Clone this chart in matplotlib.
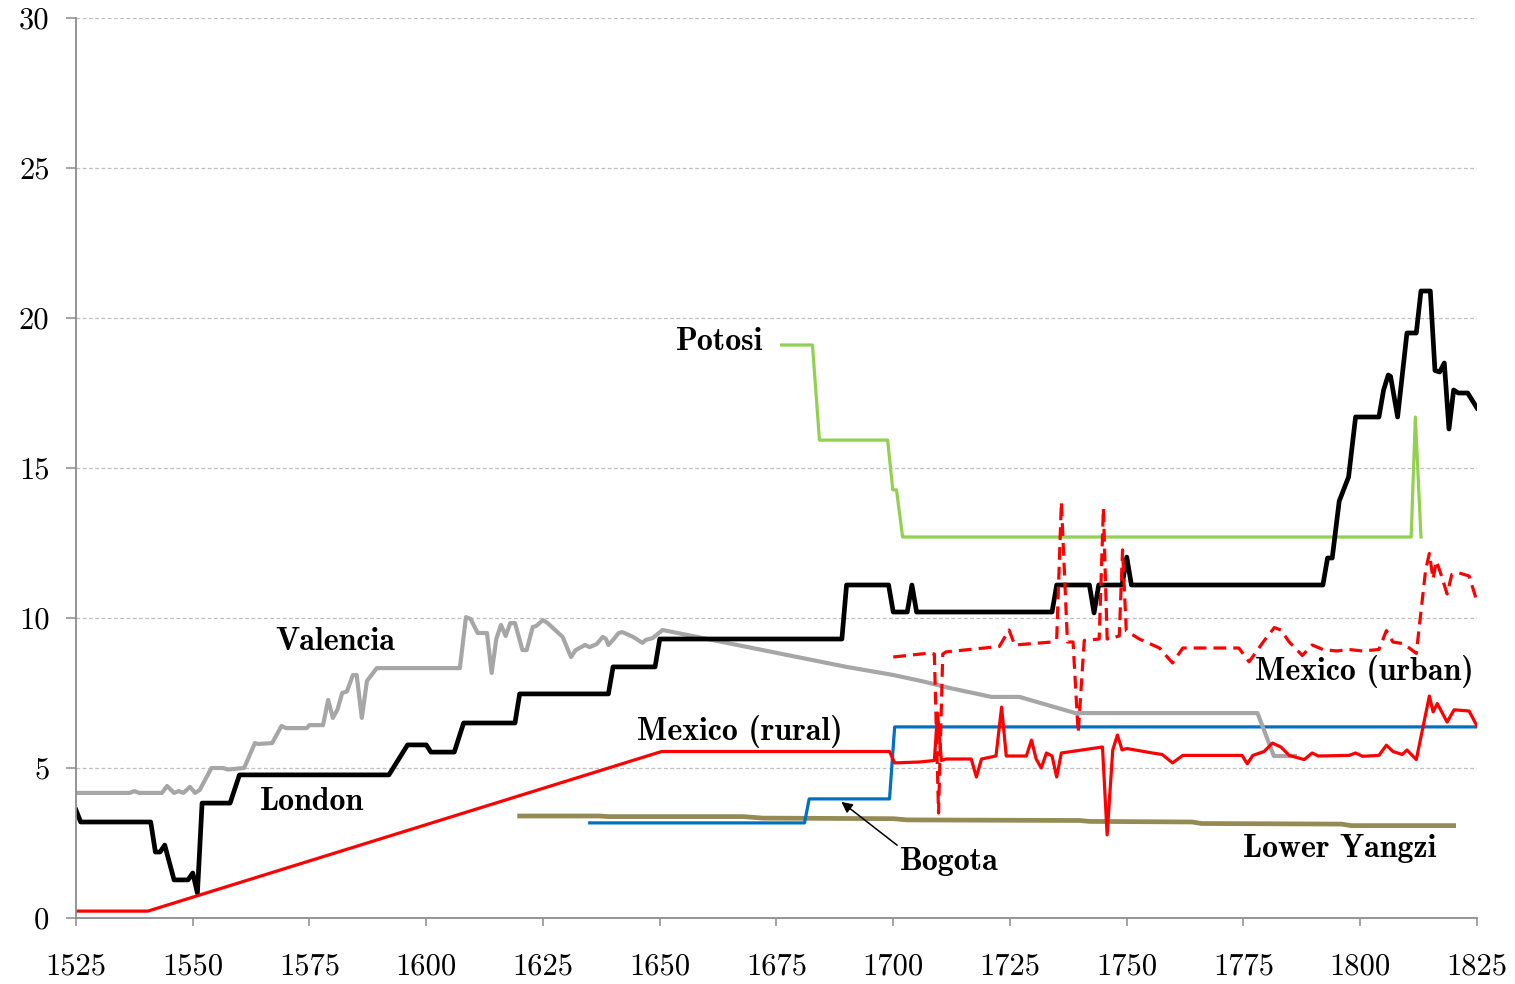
import matplotlib
matplotlib.use("Agg")
import matplotlib.pyplot as plt

# London (black)
london_years = [1525, 1526, 1541, 1542, 1543, 1544, 1546, 1549, 1550, 1551, 1552, 1558, 1560,
                1592, 1596, 1600, 1601, 1606, 1608, 1619, 1620, 1639, 1640, 1649, 1650, 1689,
                1690, 1699, 1700, 1703, 1704, 1705, 1734, 1735, 1742, 1743, 1744, 1749, 1750,
                1751, 1792, 1793, 1794, 1795.5, 1797.5, 1799, 1804, 1805, 1806, 1806.5, 1808,
                1810, 1812, 1813, 1815, 1816, 1817, 1818, 1819, 1820, 1821, 1823, 1825]
london_vals = [3.6, 3.2, 3.2, 2.2, 2.2, 2.43, 1.27, 1.27, 1.5, 0.83, 3.83, 3.83, 4.77,
               4.77, 5.77, 5.77, 5.53, 5.53, 6.5, 6.5, 7.47, 7.47, 8.37, 8.37, 9.3, 9.3,
               11.1, 11.1, 10.2, 10.2, 11.1, 10.2, 10.2, 11.1, 11.1, 10.17, 11.1, 11.1, 12.03,
               11.1, 11.1, 12.0, 12.0, 13.9, 14.7, 16.7, 16.7, 17.6, 18.1, 18.05, 16.7,
               19.5, 19.5, 20.9, 20.9, 18.25, 18.2, 18.5, 16.3, 17.6, 17.5, 17.5, 17.0]

# Valencia (grey)
valencia_years = [1525, 1536.5, 1537.5, 1538.5, 1543.4, 1544.5, 1546, 1547, 1548, 1549.4, 1550.5,
                  1551.5, 1554, 1556.5, 1557.5, 1561, 1563.3, 1564, 1567, 1569, 1570, 1574.4,
                  1575, 1577.9, 1579, 1580, 1581, 1582, 1583, 1584.3, 1585.1, 1586.2, 1587.3,
                  1589.4, 1607.2, 1608.5, 1609.5, 1611, 1613, 1614, 1615, 1616, 1617, 1618,
                  1619, 1620.6, 1621.5, 1622.8, 1623.5, 1625, 1626, 1629.2, 1631, 1632, 1634,
                  1635, 1636.5, 1637.8, 1638.5, 1639, 1640, 1641.2, 1642, 1644.3, 1646.3, 1647,
                  1648.5, 1650.6, 1690, 1700, 1706, 1712, 1721, 1727, 1739, 1778, 1781.5, 1786]
valencia_vals = [4.17, 4.17, 4.23, 4.17, 4.17, 4.4, 4.17, 4.23, 4.17, 4.37, 4.17,
                 4.27, 5.0, 5.0, 4.95, 5.0, 5.83, 5.8, 5.83, 6.4, 6.33, 6.33,
                 6.43, 6.43, 7.27, 6.67, 6.95, 7.5, 7.55, 8.1, 8.1, 6.67, 7.9,
                 8.33, 8.33, 10.03, 9.97, 9.5, 9.5, 8.17, 9.3, 9.77, 9.4, 9.83,
                 9.83, 8.93, 8.93, 9.7, 9.73, 9.93, 9.83, 9.37, 8.7, 8.93, 9.1,
                 9.03, 9.13, 9.37, 9.3, 9.1, 9.27, 9.5, 9.53, 9.37, 9.17, 9.27,
                 9.33, 9.6, 8.37, 8.1, 7.9, 7.67, 7.37, 7.37, 6.83, 6.83, 5.4, 5.4]

# Mexico (rural), solid red
rural_years = [1525, 1540.4, 1650.4, 1699.2, 1700.3, 1705.6, 1708.8, 1709.5, 1710.3, 1711.3,
               1716.7, 1717.8, 1718.9, 1722, 1723.2, 1724.2, 1728.5, 1729.6, 1730.6, 1731.7,
               1732.8, 1734, 1735, 1736, 1744.8, 1745.8, 1747, 1748, 1749, 1750, 1755.5,
               1757.6, 1759.8, 1762, 1774.7, 1775.8, 1777, 1779.4, 1781.2, 1783, 1784.8, 1788,
               1789.7, 1791, 1797.6, 1799, 1800.5, 1804, 1805.6, 1807, 1809, 1810, 1812,
               1814.8, 1815.6, 1816.5, 1818.6, 1820.1, 1823.3, 1825]
rural_vals = [0.23, 0.23, 5.55, 5.55, 5.17, 5.2, 5.25, 6.83, 5.25, 5.3,
              5.3, 4.7, 5.3, 5.4, 7.03, 5.4, 5.4, 5.93, 5.3, 5.0,
              5.5, 5.4, 4.7, 5.5, 5.7, 2.77, 5.6, 6.1, 5.6, 5.65, 5.5,
              5.45, 5.17, 5.42, 5.42, 5.14, 5.42, 5.55, 5.83, 5.7, 5.42, 5.28,
              5.5, 5.4, 5.42, 5.5, 5.39, 5.42, 5.76, 5.55, 5.45, 5.6, 5.28,
              7.4, 6.87, 7.15, 6.53, 6.94, 6.9, 6.4]

# Mexico (urban), dashed red
urban_years = [1700, 1707.7, 1708.8, 1709.7, 1710.6, 1711.3, 1722.7, 1724.8, 1726, 1734, 1735,
               1736, 1737.3, 1738.5, 1739.6, 1740.9, 1744.1, 1745, 1745.8, 1748.4, 1749.1,
               1749.9, 1752.7, 1757, 1759.8, 1762, 1774, 1776.2, 1779.4, 1781.6, 1783, 1784.8,
               1787.6, 1789.7, 1792, 1794.9, 1797.6, 1800.5, 1804, 1805.6, 1807, 1809, 1810.5,
               1812, 1814, 1814.8, 1815.6, 1816.3, 1817.2, 1818.6, 1819.6, 1821.2, 1823.3, 1825]
urban_vals = [8.7, 8.83, 8.8, 3.5, 8.8, 8.87, 9.05, 9.6, 9.1, 9.2, 9.3,
              13.87, 9.2, 9.2, 6.17, 9.25, 9.3, 13.67, 9.3, 9.4, 12.27,
              9.57, 9.3, 9.0, 8.5, 9.0, 9.0, 8.54, 9.24, 9.68, 9.6, 9.2,
              8.75, 9.1, 8.95, 8.9, 8.95, 8.9, 8.95, 9.58, 9.2, 9.15, 9.0,
              8.82, 11.6, 12.15, 11.3, 11.9, 11.5, 10.8, 11.45, 11.5, 11.4, 10.55]

# Potosi (green)
potosi_years = [1676.1, 1682.7, 1684.2, 1698.8, 1699.9, 1700.7, 1702, 1810.9, 1811.8, 1813]
potosi_vals = [19.1, 19.1, 15.93, 15.93, 14.27, 14.27, 12.7, 12.7, 16.7, 12.7]

# Bogota (blue)
bogota_years = [1635, 1681, 1682, 1699.2, 1700.3, 1825]
bogota_vals = [3.17, 3.17, 3.97, 3.97, 6.37, 6.37]

# Lower Yangzi (olive)
yangzi_years = [1620, 1637, 1639, 1668, 1672, 1700, 1703, 1740, 1742, 1764, 1766, 1796, 1798, 1820]
yangzi_vals = [3.40, 3.40, 3.38, 3.38, 3.33, 3.31, 3.27, 3.25, 3.22, 3.20, 3.15, 3.13, 3.08, 3.08]

xticks = list(range(1525, 1826, 25))
yticks = [0, 5, 10, 15, 20, 25, 30]

grey = "#8C8C8C"
fig = plt.figure(figsize=(15.15, 9.84), dpi=100)
ax = fig.add_axes([76 / 1515, 66 / 984, (1477 - 76) / 1515, 900 / 984])

ax.plot(yangzi_years, yangzi_vals, color="#948A54", lw=3.4, solid_joinstyle="round")
ax.plot(bogota_years, bogota_vals, color="#0070C0", lw=2.3)
ax.plot(potosi_years, potosi_vals, color="#92D050", lw=2.3)
ax.plot(valencia_years, valencia_vals, color="#A6A6A6", lw=3.0)
ax.plot(london_years, london_vals, color="black", lw=3.4)
ax.plot(rural_years, rural_vals, color="#FF0000", lw=2.3)
ax.plot(urban_years, urban_vals, color="#FF0000", lw=2.3, dashes=(4, 2.2))

ax.set_xlim(1525, 1825)
ax.set_ylim(0, 30)
ax.set_xticks(xticks)
ax.set_yticks(yticks)
ax.grid(axis="y", color="#BFBFBF", linestyle=(0, (3, 2)), lw=0.9)
ax.set_axisbelow(True)
for s in ["top", "right"]:
    ax.spines[s].set_visible(False)
for s in ["left", "bottom"]:
    ax.spines[s].set_color(grey)
    ax.spines[s].set_linewidth(1.3)
ax.tick_params(axis="y", direction="out", length=7, width=1.1, color=grey, pad=12)
ax.tick_params(axis="x", direction="out", length=6, width=1.1, color=grey, pad=19)
for lab in ax.get_xticklabels() + ax.get_yticklabels():
    lab.set_fontfamily("cmr10")
    lab.set_fontsize(22)

lbl = dict(family="cmb10", fontsize=23, ha="center", va="center")
ax.text(1662.8, 19.23, "Potosi", **lbl)
ax.text(1580.4, 9.2, "Valencia", **lbl)
ax.text(1575.5, 3.87, "London", **lbl)
ax.text(1667.1, 6.2, "Mexico (rural)", **lbl)
ax.text(1800.8, 8.2, "Mexico (urban)", **lbl)
ax.text(1795.5, 2.33, "Lower Yangzi", **lbl)
ax.annotate("Bogota", xy=(1688.9, 3.87), xytext=(1712, 1.87),
            arrowprops=dict(arrowstyle="-|>", color="black", lw=1.1, mutation_scale=16,
                            relpos=(0, 1), shrinkA=0, shrinkB=0),
            **lbl)

fig.savefig("out.png", dpi=100)
